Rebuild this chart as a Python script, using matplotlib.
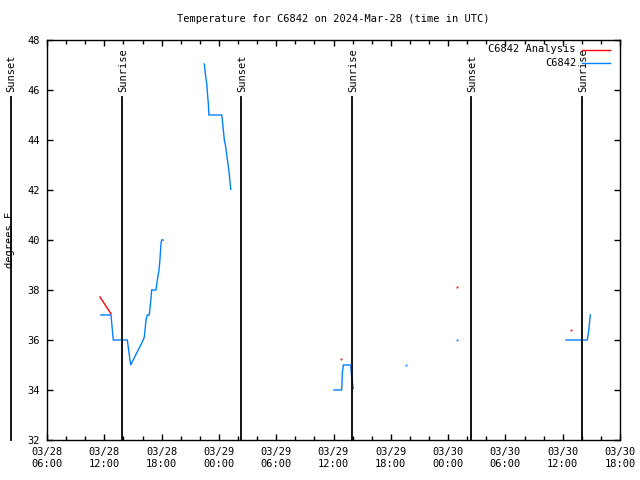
import numpy as np
import matplotlib
matplotlib.use("Agg")
import matplotlib.pyplot as plt

# hours since 03/28 06:00 UTC
obs_seg1_h = [5.65, 6.70, 6.94, 8.41, 8.76, 10.08, 10.19, 10.37, 10.50, 10.71, 10.89, 10.96, 11.41, 11.55, 11.73, 11.83, 11.94, 12.01, 12.18]
obs_seg1_t = [37.0, 37.0, 36.0, 36.0, 35.0, 36.0, 36.13, 36.8, 37.0, 37.0, 37.67, 38.0, 38.0, 38.4, 38.8, 39.23, 39.87, 40.0, 40.0]
obs_seg2_h = [16.47, 16.62, 16.72, 16.83, 16.89, 16.96, 18.29, 18.36, 18.46, 18.57, 18.71, 18.82, 18.92, 19.06, 19.16, 19.24]
obs_seg2_t = [47.04, 46.53, 46.27, 45.73, 45.47, 45.0, 45.0, 44.8, 44.4, 44.0, 43.73, 43.4, 43.13, 42.73, 42.33, 42.03]
obs_seg3_h = [30.05, 30.86, 30.92, 31.03, 31.80, 31.86, 32.07]
obs_seg3_t = [34.0, 34.0, 34.67, 35.0, 35.0, 34.67, 34.05]
obs_seg4_h = [54.35, 56.58, 56.68, 56.75, 56.83, 56.89]
obs_seg4_t = [36.0, 36.0, 36.27, 36.47, 36.77, 37.0]
obs_pts_h = [37.62, 42.9]
obs_pts_t = [34.99, 36.0]

ana_line_h = [5.55, 6.70]
ana_line_t = [37.72, 37.05]
ana_pts_h = [30.79, 42.9, 54.9]
ana_pts_t = [35.24, 38.1, 36.39]

sun_h = [-3.8, 7.85, 20.31, 31.94, 44.40, 56.02]
sun_lbl = ["Sunset", "Sunrise", "Sunset", "Sunrise", "Sunset", "Sunrise"]

xtick_h = [0, 6, 12, 18, 24, 30, 36, 42, 48, 54, 60]
xtick_lbl = ["03/28\n06:00", "03/28\n12:00", "03/28\n18:00", "03/29\n00:00", "03/29\n06:00",
             "03/29\n12:00", "03/29\n18:00", "03/30\n00:00", "03/30\n06:00", "03/30\n12:00", "03/30\n18:00"]
yticks = [32, 34, 36, 38, 40, 42, 44, 46, 48]

RED = "#ff0000"
BLUE = "#0080ff"
FONT = "DejaVu Sans Mono"
FS = 7.5

fig = plt.figure(figsize=(6.4, 4.8), dpi=100)
W, H = 640, 480
ax = fig.add_axes([47 / W, 1 - 440 / H, (620 - 47) / W, 400 / H])
ax.set_xlim(0, 60)
ax.set_ylim(32, 48)

for hh, tt in [(obs_seg1_h, obs_seg1_t), (obs_seg2_h, obs_seg2_t), (obs_seg3_h, obs_seg3_t), (obs_seg4_h, obs_seg4_t)]:
    ax.plot(hh, tt, color=BLUE, lw=1.0, solid_joinstyle="miter", zorder=3)
ax.plot(obs_pts_h, obs_pts_t, ls="none", marker="s", ms=1.3, mew=0, color=BLUE, zorder=3)
ax.plot(ana_line_h, ana_line_t, color=RED, lw=1.0, zorder=3)
ax.plot(ana_pts_h, ana_pts_t, ls="none", marker="s", ms=1.3, mew=0, color=RED, zorder=3)

for h, lbl in zip(sun_h, sun_lbl):
    ax.plot([h, h], [32, 45.72], color="black", lw=1.3, clip_on=False, zorder=4)
    ax.text(h + 0.1, 45.9, lbl, rotation=90, ha="center", va="bottom", fontsize=FS,
            family=FONT, clip_on=False)

ax.set_xticks(xtick_h)
ax.set_xticklabels(xtick_lbl, family=FONT, fontsize=FS)
ax.set_xticks(np.arange(0, 61, 2), minor=True)
ax.set_yticks(yticks)
ax.set_yticklabels([str(v) for v in yticks], family=FONT, fontsize=FS)
ax.tick_params(axis="both", which="major", direction="in", length=4.5, width=1.0,
               top=True, right=True, pad=5)
ax.tick_params(axis="both", which="minor", direction="in", length=2.8, width=1.0,
               top=True, right=True)
ax.tick_params(axis="y", which="minor", left=False, right=False)
for s in ax.spines.values():
    s.set_linewidth(1.0)

fig.text(333.5 / W, 1 - 19 / H, "Temperature for C6842 on 2024-Mar-28 (time in UTC)",
         ha="center", va="center", fontsize=FS, family=FONT)
fig.text(10 / W, 0.5, "degrees F", rotation=90, ha="center", va="center", fontsize=FS, family=FONT)

# legend
for y, lbl, col in [(49.5, "C6842 Analysis", RED), (62.5, "C6842", BLUE)]:
    fig.text(576 / W, 1 - y / H, lbl, ha="right", va="center", fontsize=FS, family=FONT)
    fig.add_artist(plt.Line2D([582 / W, 610 / W], [1 - y / H, 1 - y / H], color=col, lw=1.0,
                              transform=fig.transFigure))

fig.savefig("out.png", dpi=100)
